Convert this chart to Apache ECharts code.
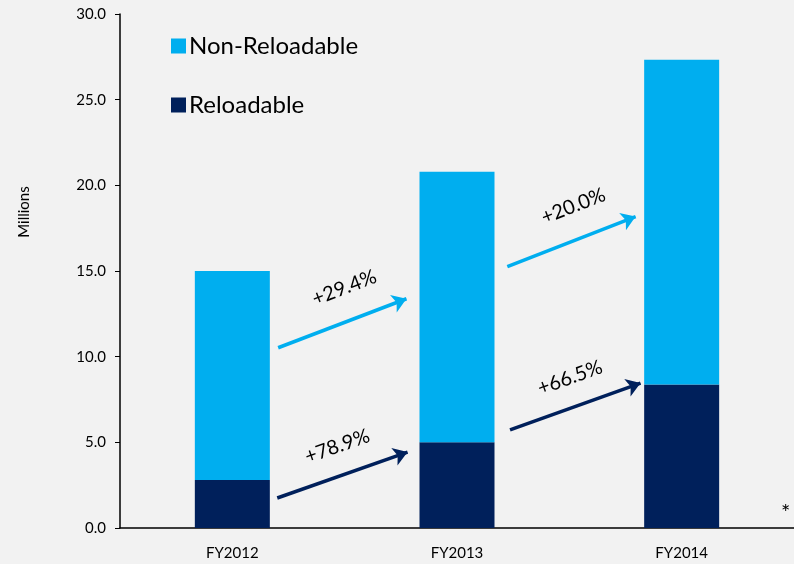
<!DOCTYPE html>
<html>
<head>
<meta charset="utf-8">
<script src="https://cdn.jsdelivr.net/npm/echarts@6/dist/echarts.min.js"></script>
<style>
  html, body { margin: 0; padding: 0; background: #f2f2f2; }
  #chart { width: 794px; height: 564px; }
</style>
</head>
<body>
<div id="chart"></div>
<script>
// Fiscal years on the category axis
var years = ['FY2012', 'FY2013', 'FY2014'];
// Card volumes (millions)
var reloadable = [2.80, 5.01, 8.38];
var nonReloadable = [12.20, 15.79, 18.95];
// Growth arrows: [fromX, fromY, toX, toY] in category-index / value units
var lightArrows = [[0.204, 10.52, 0.775, 13.38], [1.224, 15.26, 1.795, 18.18]];
var darkArrows = [[0.200, 1.75, 0.780, 4.43], [1.236, 5.73, 1.817, 8.46]];
var lightGrowth = ['+29.4%', '+20.0%'];
var darkGrowth = ['+78.9%', '+66.5%'];

var LIGHT = '#00AEEF';
var DARK = '#00205B';
var FONT = 'Lato, "Open Sans", sans-serif';

function arrowData(list, labels) {
  return list.map(function (a, i) {
    return { coords: [[a[0], a[1]], [a[2], a[3]]], label: { formatter: labels[i] } };
  });
}

function arrowSeries(list, labels, color, dist, shift) {
  return {
    type: 'lines',
    coordinateSystem: 'cartesian2d',
    xAxisIndex: 1,
    yAxisIndex: 0,
    symbol: ['none', 'arrow'],
    symbolSize: [0, 14],
    lineStyle: { color: color, width: 3.5, opacity: 1 },
    label: {
      show: true,
      position: 'middle',
      distance: dist,
      offset: [shift, 0],
      color: '#000',
      fontSize: 20,
      fontFamily: FONT
    },
    silent: true,
    z: 5,
    data: arrowData(list, labels)
  };
}

var chart = echarts.init(document.getElementById('chart'));
chart.setOption({
  backgroundColor: '#f2f2f2',
  animation: false,
  grid: { left: 120, right: -2.5, top: 14, bottom: 36, containLabel: false },
  legend: {
    orient: 'vertical',
    left: 166,
    top: 29,
    itemWidth: 15,
    itemHeight: 15,
    itemGap: 35,
    icon: 'rect',
    textStyle: { fontSize: 24, fontFamily: FONT, color: '#000', padding: [0, 0, 0, -2] },
    data: ['Non-Reloadable', 'Reloadable']
  },
  xAxis: [{
    type: 'category',
    data: years,
    axisLine: { lineStyle: { color: '#000', width: 1.5 } },
    axisTick: { inside: true, length: 5, lineStyle: { color: '#000' } },
    axisLabel: { color: '#000', fontSize: 15, fontFamily: FONT, margin: 18 }
  }, {
    type: 'value',
    min: -0.5,
    max: 2.5,
    show: false
  }],
  yAxis: {
    type: 'value',
    min: 0,
    max: 30,
    interval: 5,
    axisLine: { show: true, onZero: false, lineStyle: { color: '#000', width: 1.5 } },
    axisTick: { show: true, length: 5, lineStyle: { color: '#000' } },
    splitLine: { show: false },
    axisLabel: {
      color: '#000', fontSize: 15, fontFamily: FONT, margin: 14,
      formatter: function (v) { return v.toFixed(1); }
    }
  },
  series: [{
    name: 'Reloadable',
    type: 'bar',
    stack: 'total',
    barWidth: 75,
    itemStyle: { color: DARK },
    data: reloadable
  }, {
    name: 'Non-Reloadable',
    type: 'bar',
    stack: 'total',
    barWidth: 75,
    itemStyle: { color: LIGHT },
    data: nonReloadable
  },
  arrowSeries(lightArrows, lightGrowth, LIGHT, 24, 6),
  arrowSeries(darkArrows, darkGrowth, DARK, 20, -2)
  ],
  graphic: [{
    // y-axis unit title
    type: 'text',
    x: 24,
    y: 212,
    rotation: Math.PI / 2,
    style: {
      text: 'Millions', fontSize: 15, fontFamily: FONT, fill: '#000',
      align: 'center', verticalAlign: 'middle'
    }
  }, {
    type: 'text',
    left: 781,
    top: 502,
    style: { text: '*', fontSize: 22, fontFamily: FONT, fill: '#000' }
  }]
});
</script>
</body>
</html>
